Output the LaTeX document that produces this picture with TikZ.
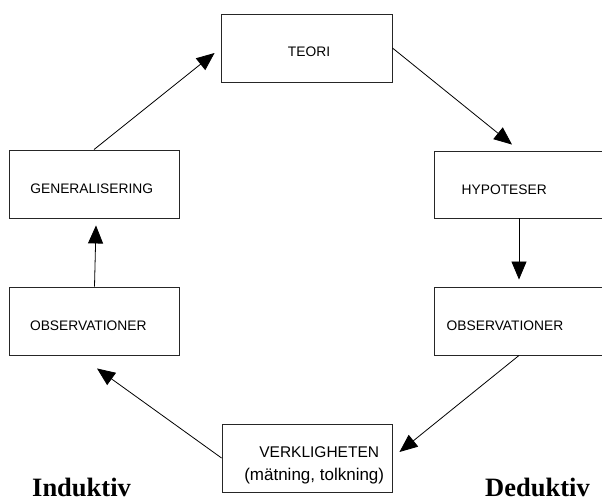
\documentclass[tikz,border=0pt]{standalone}
\usepackage{fontspec}
\setmainfont{Liberation Sans}
\newfontfamily\serifbold{Liberation Serif}
\usetikzlibrary{arrows.meta}
\begin{document}
\begin{tikzpicture}[x=1pt,y=-1pt,
  box/.style={draw=black!85,line width=0.9pt,rectangle,minimum width=170pt,minimum height=68pt,inner sep=0pt},
  txt/.style={anchor=base,inner sep=0pt,font=\fontsize{13.8}{16}\selectfont},
  big/.style={anchor=base,inner sep=0pt,font=\fontsize{15.5}{18}\selectfont},
  lbl/.style={anchor=base west,inner sep=0pt,font=\fontsize{26.5}{30}\serifbold\bfseries},
  arr/.style={line width=0.8pt,-{Triangle[length=18pt,width=15pt]}}]
\useasboundingbox (0,0) rectangle (602,497);
\fill[white] (0,0) rectangle (602,497);
% boxes
\node[box,minimum width=171pt] (teori) at (306.5,48) {};
\node[box] (gen) at (94,184) {};
\node[box,minimum height=67pt] (hyp) at (519,184.5) {};
\node[box] (obsl) at (94.5,321) {};
\node[box] (obsr) at (519,321) {};
\node[box] (verk) at (307,458) {};
% texts
\node[txt] (t1) at (309,57) {TEORI};
\node[txt] (t2) at (91.7,193.3) {GENERALISERING};
\node[txt] (t3) at (504.2,194) {HYPOTESER};
\node[txt] (t4) at (88.3,330.7) {OBSERVATIONER};
\node[txt] (t5) at (505,330.7) {OBSERVATIONER};
\node[big] (t6) at (319.2,457.3) {VERKLIGHETEN};
\node[big,font=\fontsize{17}{18}\selectfont] (t7) at (314.2,480) {(mätning, tolkning)};
\node[lbl] (ind) at (32,496) {Induktiv};
\node[lbl] (ded) at (485,496) {Deduktiv};
% arrows
\draw[arr] (gen.north) -- ([shift={(-6,5)}]teori.west);
\draw[arr] (teori.east) -- ([shift={(-7,-6)}]hyp.north);
\draw[arr] (hyp.south) -- ([shift={(0,-7)}]obsr.north);
\draw[arr] (obsr.south) -- ([shift={(7,-6)}]verk.east);
\draw[arr] (verk.west) -- ([shift={(2.5,13)}]obsl.south);
\draw[arr] (obsl.north) -- ([shift={(2,7)}]gen.south);
\end{tikzpicture}
\end{document}
